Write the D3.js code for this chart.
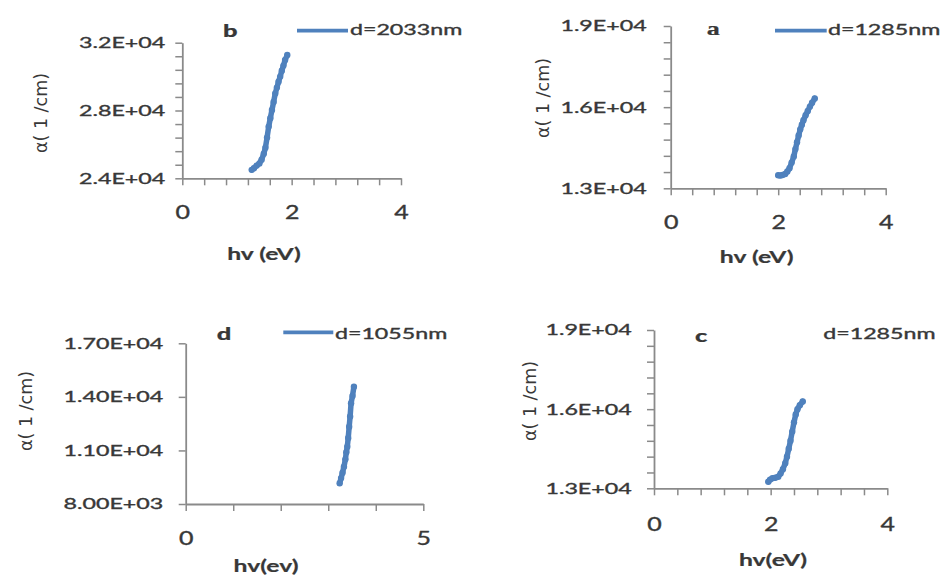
<!DOCTYPE html>
<html><head><meta charset="utf-8">
<script src="https://cdn.jsdelivr.net/npm/d3@7/dist/d3.min.js"></script>
<style>body{margin:0;background:#fff}svg{display:block}</style>
</head><body>
<svg id="chart" width="944" height="576"></svg>
<script>
// ---------------- DATA ----------------
// panel b : d=2033nm
const seriesB = [[1.27,24500],[1.31,24600],[1.36,24750],[1.41,24880],[1.45,25100],[1.49,25450],[1.52,25800],[1.55,26400],[1.58,27050],[1.61,27550],[1.64,28030],[1.67,28500],[1.70,29000],[1.73,29350],[1.76,29700],[1.79,30000],[1.82,30350],[1.85,30650],[1.88,30980],[1.92,31270]];
// panel a : d=1285nm
const seriesA = [[2.00,13480],[2.04,13470],[2.08,13490],[2.13,13530],[2.17,13620],[2.21,13740],[2.25,13950],[2.29,14180],[2.32,14450],[2.35,14700],[2.38,14950],[2.41,15180],[2.44,15350],[2.47,15520],[2.51,15700],[2.55,15860],[2.59,16020],[2.63,16160],[2.68,16320]];
// panel d : d=1055nm
const seriesD = [[3.24,9160],[3.27,9450],[3.30,9750],[3.33,10090],[3.36,10500],[3.38,10900],[3.40,11210],[3.42,11700],[3.44,12330],[3.46,12900],[3.48,13640],[3.51,14050],[3.54,14570]];
// panel c : d=1285nm
const seriesC = [[1.96,13250],[1.99,13330],[2.03,13380],[2.08,13400],[2.13,13440],[2.17,13560],[2.21,13720],[2.25,13950],[2.28,14200],[2.31,14500],[2.34,14800],[2.37,15150],[2.40,15500],[2.43,15800],[2.46,16000],[2.50,16150],[2.55,16290]];

const xDomainB = [0,4], yDomainB = [24000,32000];
const xDomainA = [0,4], yDomainA = [13000,19000];
const xDomainD = [0,5], yDomainD = [8000,17000];
const xDomainC = [0,4], yDomainC = [13000,19000];

const yMinorStepB = 800, yMinorStepA = 600, yMinorStepD = 3000, yMinorStepC = 600;
const xMinorStepB = 0.4, xMinorStepA = 0.4, xMinorStepD = 1, xMinorStepC = 0.4;

const yTicksB = [24000,28000,32000], yTickLabelsB = ["2.4E+04","2.8E+04","3.2E+04"];
const yTicksA = [13000,16000,19000], yTickLabelsA = ["1.3E+04","1.6E+04","1.9E+04"];
const yTicksD = [8000,11000,14000,17000], yTickLabelsD = ["8.00E+03","1.10E+04","1.40E+04","1.70E+04"];
const yTicksC = [13000,16000,19000], yTickLabelsC = ["1.3E+04","1.6E+04","1.9E+04"];

const xTicksB = [0,2,4], xTicksA = [0,2,4], xTicksD = [0,5], xTicksC = [0,2,4];

const legendB = "d=2033nm", legendA = "d=1285nm", legendD = "d=1055nm", legendC = "d=1285nm";
const letterB = "b", letterA = "a", letterD = "d", letterC = "c";
const xTitleB = "hv (eV)", xTitleA = "hv (eV)", xTitleD = "hv(ev)", xTitleC = "hv(eV)";
const yTitle = "α( 1 /cm)";

// ---------------- LAYOUT ----------------
const svg = d3.select("#chart");
const TEXT = "#383838", AXIS = "#8a8a8a", BLUE = "#4F81BD";
const SANS = "Lato, 'Open Sans', sans-serif";

const panels = [
  {data:seriesB, xd:xDomainB, yd:yDomainB, ys:yMinorStepB, xs:xMinorStepB, yt:yTicksB, ytl:yTickLabelsB, xt:xTicksB,
   legend:legendB, letter:letterB, xTitle:xTitleB,
   x0:182.3, x1:401, yb:178.3, yt0:42.7, yOff:17, xLabBase:219.5,
   letterPos:[223,37], letterFont:SANS, legLine:[297,348,30.7], legText:[350,35],
   yTitlePos:[41,113], xTitlePos:[264,260]},
  {data:seriesA, xd:xDomainA, yd:yDomainA, ys:yMinorStepA, xs:xMinorStepA, yt:yTicksA, ytl:yTickLabelsA, xt:xTicksA,
   legend:legendA, letter:letterA, xTitle:xTitleA,
   x0:670.7, x1:885.7, yb:188.3, yt0:26, yOff:24, xLabBase:229.5,
   letterPos:[706.7,35], letterFont:"'Liberation Serif', serif", legLine:[775,826.7,30.7], legText:[828,35],
   yTitlePos:[542.5,98], xTitlePos:[756.7,263]},
  {data:seriesD, xd:xDomainD, yd:yDomainD, ys:yMinorStepD, xs:xMinorStepD, yt:yTicksD, ytl:yTickLabelsD, xt:xTicksD,
   legend:legendD, letter:letterD, xTitle:xTitleD,
   x0:185.7, x1:423.3, yb:504, yt0:343.3, yOff:22.4, xLabBase:545,
   letterPos:[216.7,340], letterFont:SANS, legLine:[283.3,333.3,332.3], legText:[335,339],
   yTitlePos:[25.5,411], xTitlePos:[266,572]},
  {data:seriesC, xd:xDomainC, yd:yDomainC, ys:yMinorStepC, xs:xMinorStepC, yt:yTicksC, ytl:yTickLabelsC, xt:xTicksC,
   legend:legendC, letter:letterC, xTitle:xTitleC,
   x0:654, x1:887.3, yb:488.3, yt0:330, yOff:22.3, xLabBase:531,
   letterPos:[695,341.7], letterFont:SANS, legLine:null, legText:[823.3,339.3],
   yTitlePos:[530,401], xTitlePos:[773,566]}
];

const SX = 1.5; // horizontal text stretch

function htext(g, x, y, str, size, weight, anchor, sx, family){
  return g.append("text")
    .attr("transform", `translate(${x},${y}) scale(${sx},1)`)
    .attr("text-anchor", anchor)
    .attr("font-family", family || SANS)
    .attr("font-size", size)
    .attr("font-weight", weight)
    .attr("fill", TEXT)
    .attr("stroke", TEXT).attr("stroke-width", weight >= 700 ? 0.2 : 0.35)
    .text(str);
}

panels.forEach(p => {
  const g = svg.append("g");
  const x = d3.scaleLinear().domain(p.xd).range([p.x0, p.x1]);
  const y = d3.scaleLinear().domain(p.yd).range([p.yb, p.yt0]);

  const nY = Math.round((p.yd[1]-p.yd[0])/p.ys);
  const yVals = d3.range(nY+1).map(i => p.yd[0] + i*p.ys);
  const nX = Math.round((p.xd[1]-p.xd[0])/p.xs);
  const xVals = d3.range(nX+1).map(i => p.xd[0] + i*p.xs);

  const yAxis = d3.axisLeft(y).tickValues(yVals).tickSize(7).tickSizeOuter(0).tickPadding(p.yOff-7)
    .tickFormat(v => { const k = p.yt.findIndex(t => Math.abs(t-v) < 1e-6); return k >= 0 ? p.ytl[k] : ""; });
  const xAxis = d3.axisBottom(x).tickValues(xVals).tickSize(7).tickSizeOuter(0).tickPadding(0)
    .tickFormat(v => p.xt.some(t => Math.abs(t-v) < 1e-6) ? d3.format("d")(v) : "");

  const gy = g.append("g").attr("transform", `translate(${p.x0},0)`).call(yAxis);
  const gx = g.append("g").attr("transform", `translate(0,${p.yb})`).call(xAxis);
  [gy, gx].forEach(a => {
    a.select(".domain").attr("stroke", AXIS).attr("stroke-width", 1.8);
    a.selectAll(".tick line").attr("stroke", AXIS).attr("stroke-width", 1.5);
  });
  gy.selectAll(".tick text")
    .attr("font-family", SANS).attr("font-size", 15.5).attr("fill", TEXT)
    .attr("stroke", TEXT).attr("stroke-width", 0.35)
    .each(function(){ const t = d3.select(this); t.attr("x", (+t.attr("x"))/SX).attr("transform", `scale(${SX},1)`); });
  gx.selectAll(".tick text")
    .attr("font-family", SANS).attr("font-size", 18.5).attr("fill", TEXT)
    .attr("stroke", TEXT).attr("stroke-width", 0.35)
    .attr("y", p.xLabBase - p.yb).attr("dy", 0)
    .attr("transform", `scale(1.35,1)`);

  // series
  const line = d3.line().x(d => x(d[0])).y(d => y(d[1]));
  g.append("path").datum(p.data).attr("d", line).attr("fill", "none")
    .attr("stroke", BLUE).attr("stroke-width", 5.5).attr("stroke-linejoin", "round").attr("stroke-linecap", "round");
  g.selectAll("circle.pt").data(p.data).join("circle").attr("class", "pt")
    .attr("cx", d => x(d[0])).attr("cy", d => y(d[1])).attr("r", 3.2).attr("fill", BLUE);

  // legend
  if (p.legLine) {
    g.append("line").attr("x1", p.legLine[0]).attr("x2", p.legLine[1])
      .attr("y1", p.legLine[2]).attr("y2", p.legLine[2])
      .attr("stroke", BLUE).attr("stroke-width", 3.8);
  }
  htext(g, p.legText[0], p.legText[1], p.legend, 14.5, 400, "start", 1.6);

  // panel letter
  if (p.letter === "a") htext(g, p.letterPos[0], p.letterPos[1], p.letter, 18, 700, "start", 1.45, p.letterFont);
  else htext(g, p.letterPos[0], p.letterPos[1], p.letter, 17, 900, "start", 1.5, p.letterFont);

  // axis titles
  htext(g, p.xTitlePos[0], p.xTitlePos[1], p.xTitle, 16.5, 700, "middle", SX);
  g.append("text")
    .attr("transform", `translate(${p.yTitlePos[0]},${p.yTitlePos[1]}) rotate(-90)`)
    .attr("text-anchor", "middle").attr("dominant-baseline", "central")
    .attr("font-family", "'DejaVu Sans', sans-serif").attr("font-size", 17.5)
    .attr("fill", TEXT).text(yTitle);
});
</script>
</body></html>
